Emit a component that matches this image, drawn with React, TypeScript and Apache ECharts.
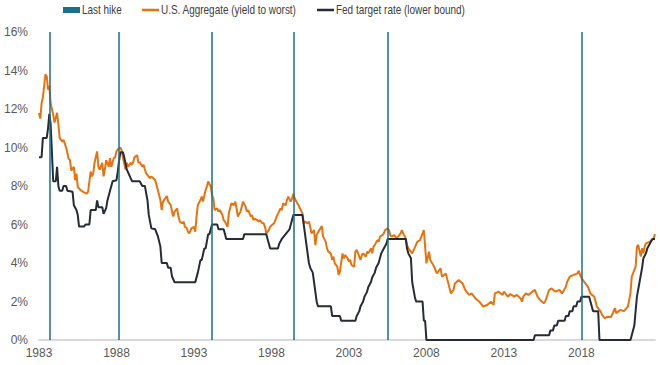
import React, { useEffect, useRef } from 'react';
import * as echarts from 'echarts';

// x values are months counted from December 1983 (label "1983")
const xTickLabels = ['1983', '1988', '1993', '1998', '2003', '2008', '2013', '2018'];
const lastHikeMonths = [8, 62, 134, 197, 270, 420];
const legendNames = ['Last hike', 'U.S. Aggregate (yield to worst)', 'Fed target rate (lower bound)'];

const aggMonths = [
  0, 1, 2, 3, 5, 6, 7, 8, 9, 11, 12, 14, 15, 16, 18, 19, 20, 21, 23, 24, 25, 27, 28, 29, 30, 32, 34, 37, 38,
  40, 41, 42, 43, 45, 46, 47, 49, 50, 51, 52, 54, 55, 56, 58, 59, 60, 61, 63, 64, 65, 67, 68, 69, 71, 72, 73,
  74, 76, 77, 78, 80, 81, 82, 83, 86, 87, 90, 91, 94, 95, 96, 99, 100, 102, 103, 104, 105, 107, 108, 109, 111,
  112, 113, 114, 116, 117, 118, 120, 121, 122, 123, 125, 126, 127, 129, 130, 131, 133, 134, 135, 136, 138, 139,
  140, 142, 143, 144, 146, 147, 148, 149, 151, 152, 153, 154, 156, 157, 158, 160, 161, 162, 164, 165, 166, 167,
  169, 170, 171, 173, 174, 175, 176, 178, 179, 180, 182, 183, 184, 187, 188, 189, 191, 192, 193, 195, 196, 197,
  198, 200, 201, 202, 204, 205, 206, 208, 209, 210, 211, 213, 214, 215, 217, 218, 219, 220, 222, 223, 224, 226,
  227, 228, 229, 231, 232, 233, 235, 236, 237, 239, 240, 241, 242, 244, 245, 246, 248, 249, 250, 251, 253, 254,
  255, 257, 258, 259, 260, 262, 263, 264, 266, 267, 268, 270, 271, 272, 273, 275, 277, 280, 281, 282, 284, 285,
  286, 289, 293, 295, 298, 300, 302, 303, 306, 308, 311, 312, 315, 316, 319, 321, 322, 325, 328, 330, 333, 335,
  338, 341, 344, 347, 350, 352, 353, 356, 359, 360, 363, 365, 368, 370, 373, 374, 375, 377, 379, 382, 384, 386,
  388, 391, 392, 395, 397, 400, 403, 405, 408, 409, 411, 414, 417, 418, 419, 421, 423, 425, 427, 430, 431, 432,
  435, 436, 438, 440, 441, 443, 446, 447, 450, 453, 456, 458, 459, 460, 462, 463, 464, 466, 467, 468, 469, 470,
  473, 476, 477,
];
const aggYields = [
  11.8, 11.5, 12.3, 12.6, 13.8, 13.7, 13.0, 13.2, 12.3, 11.7, 11.3, 11.8, 11.2, 10.5, 10.3, 10.4, 10.2, 10.0, 9.4,
  9.35, 8.8, 9.0, 8.3, 8.65, 7.95, 7.8, 7.7, 7.6, 7.7,
  8.75, 8.5, 8.65, 9.2, 9.8, 9.0, 8.85, 9.2, 8.5, 8.85, 9.35, 9.0, 9.45, 9.0, 9.45, 9.5, 9.8, 9.9, 10.0, 9.85,
  9.45, 8.85, 9.2, 9.0, 9.2, 9.1, 9.25,
  9.5, 9.6, 9.2, 9.25, 9.0, 9.1, 8.85, 8.65, 8.4, 8.5, 8.3, 8.05, 7.27, 6.75, 7.19, 7.48, 7.19, 7.01, 6.67, 6.41,
  6.67, 6.84, 6.41, 6.15, 6.06,
  6.15, 5.88, 5.85, 5.54, 5.63, 5.8, 5.88, 5.63, 6.41, 7.01, 7.27, 7.45, 7.19, 7.79, 7.97, 8.23, 7.97, 7.53, 7.36,
  6.75, 6.84, 6.67,
  6.75, 6.49, 6.23, 6.15, 5.88, 6.58, 6.84, 7.1, 7.01, 7.19, 6.84, 6.41, 6.67, 6.93, 7.19, 6.93, 6.67, 6.75, 6.41,
  6.49, 6.23, 6.3,
  6.23, 6.15, 6.23, 6.06, 6.06, 5.88, 5.54, 5.71, 5.88, 5.95, 6.06, 6.23, 6.41, 6.84, 6.75, 7.1, 7.0, 7.27, 7.45,
  7.19, 7.36, 7.59,
  7.36, 7.1, 7.01, 6.84, 6.58, 6.06, 6.15, 6.06, 6.15, 5.88, 5.54, 5.71, 4.93, 5.45, 5.71, 5.8, 5.92, 5.37, 5.11,
  4.76, 4.59, 4.5,
  4.16, 4.33, 3.98, 3.81, 3.38, 3.55, 4.5, 4.24, 4.41, 4.24, 4.07, 4.16, 3.89, 3.81, 4.59, 4.68, 4.33, 4.16, 4.41,
  4.5, 4.33, 4.59,
  4.5, 4.76, 4.5, 4.85, 4.93, 5.19, 5.11, 5.37, 5.45, 5.54, 5.71, 5.8, 5.71, 5.45, 5.37, 5.45, 5.28, 5.54, 5.71,
  5.54, 5.28, 4.94,
  4.76, 4.5, 5.11, 5.19, 5.71, 3.98, 4.59, 4.16, 3.81, 3.46, 3.72, 3.29, 3.46, 3.2, 2.42, 2.6, 2.94, 3.12, 2.94,
  2.6, 2.34, 2.42,
  2.16, 1.99, 1.73, 1.82, 1.99, 1.82, 2.42, 2.51, 2.34, 2.51, 2.25, 2.39, 2.25, 2.34, 2.16, 1.99, 2.25, 2.42, 2.34,
  2.51, 2.6, 2.25,
  2.08, 1.91, 2.0, 2.6, 2.68, 2.51, 2.6, 2.42, 2.77, 3.03, 3.29, 3.38, 3.46, 3.6, 3.38, 3.12, 2.94, 2.77, 2.42,
  2.25, 1.99, 1.73,
  1.47, 1.3, 1.13, 1.2, 1.21, 1.2, 1.65, 1.39, 1.56, 1.5, 1.73, 2.42, 3.29, 3.46, 3.81, 4.85, 4.94, 4.33, 4.76,
  4.5, 4.85, 5.02,
  5.11, 5.28, 5.5,
];

const fedMonths = [
  0, 2, 3, 6, 7, 8, 9, 10, 11, 13, 14, 15, 16, 18, 19, 21, 22, 26, 27, 29, 30, 31, 35, 36, 39, 40, 44, 45, 46,
  49, 50, 52, 53, 55, 57, 60, 61, 62, 63, 65, 66, 68, 70, 72, 78, 80, 82, 84, 85, 87, 90, 92, 94, 95, 99, 100,
  102, 103, 105, 121, 123, 125, 126, 128, 129, 131, 132, 134, 138, 139, 143, 145, 158, 159, 176, 177, 178, 179,
  185, 186, 188, 191, 194, 195, 197, 204, 205, 206, 207, 208, 209, 210, 212, 213, 214, 215, 216, 226, 227, 233,
  234, 245, 246, 248, 249, 251, 252, 254, 255, 257, 258, 260, 261, 263, 264, 265, 267, 269, 270, 284, 285, 286,
  288, 289, 291, 292, 297, 298, 299, 300, 383, 384, 395, 396, 398, 399, 401, 402, 407, 408, 410, 411, 413, 414,
  416, 417, 419, 420, 426, 427, 428, 429, 433, 434, 458, 459, 461, 462, 463, 465, 467, 468, 470, 471, 473, 475,
  477,
];
const fedRates = [
  9.5, 9.5, 10.5, 10.5, 11.0, 11.75, 11.25, 9.75, 8.25, 8.25, 9.0, 8.0, 7.75, 7.75, 8.0, 8.0, 7.75, 7.7, 7.0,
  6.75, 6.5, 5.9, 5.9, 6.0, 6.0, 6.75, 6.75, 7.25, 6.9,
  6.9, 6.55, 6.85, 7.25, 7.75, 8.25, 8.3, 8.75, 9.3, 9.75, 9.75, 9.5, 8.85, 8.55, 8.25, 8.25, 8.0, 8.0, 7.25,
  6.5, 5.8, 5.75, 5.4, 4.85, 4.0, 4.0, 3.75,
  3.75, 3.3, 3.0, 3.0, 3.5, 4.15, 4.15, 4.75, 4.75, 5.5, 5.5, 6.0, 6.0, 5.75, 5.75, 5.25, 5.25, 5.5, 5.5, 5.25,
  5.0, 4.75,
  4.75, 5.0, 5.25, 5.5, 5.75, 6.0, 6.5, 6.5, 6.0, 5.5, 5.0, 4.5, 4.0, 3.75, 3.5, 3.0, 2.5, 2.0, 1.75, 1.75, 1.25,
  1.25,
  1.0, 1.0, 1.25, 1.5, 1.75, 2.0, 2.25, 2.5, 2.75, 3.0, 3.25, 3.5, 3.75, 4.0, 4.25, 4.5, 4.75, 5.0, 5.25, 5.25,
  4.75, 4.5,
  4.25, 3.0, 2.25, 2.0, 2.0, 1.0, 1.0, 0, 0, 0.25, 0.25, 0.5, 0.5, 0.75, 0.75, 1.0, 1.0, 1.25, 1.25, 1.5, 1.5,
  1.75,
  1.75, 2.0, 2.0, 2.25, 2.25, 2.0, 1.75, 1.5, 1.5, 0, 0, 0.25, 0.75, 1.5, 2.25, 3.0, 3.75, 4.25, 4.5, 4.75, 5.0,
  5.25,
  5.25,
];

const TEAL = '#1a6f8c';
const ORANGE = '#e8730e';
const NAVY = '#262b36';
const FONT = "'Liberation Sans', Arial, sans-serif";
const LEGEND_TEXT = { fill: '#404040', fontSize: 12, fontFamily: FONT, textVerticalAlign: 'middle' };

export default function App() {
  const ref = useRef<HTMLDivElement>(null);

  useEffect(() => {
    if (!ref.current) return;
    const chart = echarts.init(ref.current, undefined, { renderer: 'svg' });
    chart.setOption({
      animation: false,
      grid: { left: 39, right: 5, top: 32, bottom: 25, containLabel: false },
      graphic: [
        { type: 'rect', left: 63, top: 7, shape: { x: 0, y: 0, width: 17, height: 6 }, style: { fill: TEAL } },
        {
          type: 'text', x: 82, y: 10, scaleX: 0.83,
          style: { ...LEGEND_TEXT, text: legendNames[0], verticalAlign: 'middle' },
        },
        { type: 'line', shape: { x1: 142, y1: 10, x2: 159, y2: 10 }, style: { stroke: ORANGE, lineWidth: 2.5 } },
        {
          type: 'text', x: 161, y: 10, scaleX: 0.83,
          style: { ...LEGEND_TEXT, text: legendNames[1], verticalAlign: 'middle' },
        },
        { type: 'line', shape: { x1: 317, y1: 10, x2: 334, y2: 10 }, style: { stroke: NAVY, lineWidth: 2.5 } },
        {
          type: 'text', x: 336, y: 10, scaleX: 0.83,
          style: { ...LEGEND_TEXT, text: legendNames[2], verticalAlign: 'middle' },
        },
      ],
      xAxis: {
        type: 'value',
        min: 0,
        max: 477,
        interval: 60,
        axisLine: { show: true, lineStyle: { color: '#d9d9d9', width: 2 } },
        axisTick: { show: false },
        splitLine: { show: false },
        axisLabel: {
          showMaxLabel: false,
          margin: 7,
          color: '#595959',
          fontSize: 12,
          fontFamily: FONT,
          formatter: (v: number) => (v % 60 === 0 ? xTickLabels[v / 60] ?? '' : ''),
        },
      },
      yAxis: {
        type: 'value',
        min: 0,
        max: 16,
        interval: 2,
        axisLine: { show: false },
        axisTick: { show: false },
        splitLine: { show: false },
        axisLabel: {
          margin: 11,
          color: '#595959',
          fontSize: 12,
          fontFamily: FONT,
          formatter: '{value}%',
        },
      },
      series: [
        {
          name: legendNames[0],
          type: 'line',
          data: [],
          itemStyle: { color: TEAL },
          lineStyle: { color: TEAL },
          markLine: {
            silent: true,
            symbol: ['none', 'none'],
            label: { show: false },
            lineStyle: { color: TEAL, width: 1.5, type: 'solid' },
            data: lastHikeMonths.map((m) => ({ xAxis: m })),
          },
        },
        {
          name: legendNames[1],
          type: 'line',
          data: aggMonths.map((m, i) => [m, aggYields[i]]),
          showSymbol: false,
          itemStyle: { color: ORANGE },
          lineStyle: { color: ORANGE, width: 2 },
        },
        {
          name: legendNames[2],
          type: 'line',
          data: fedMonths.map((m, i) => [m, fedRates[i]]),
          showSymbol: false,
          itemStyle: { color: NAVY },
          lineStyle: { color: NAVY, width: 2 },
        },
      ],
    });
    return () => chart.dispose();
  }, []);

  return (
    <div
      ref={ref}
      style={{ position: 'fixed', left: 0, top: 0, width: 660, height: 365, background: '#ffffff' }}
    />
  );
}
